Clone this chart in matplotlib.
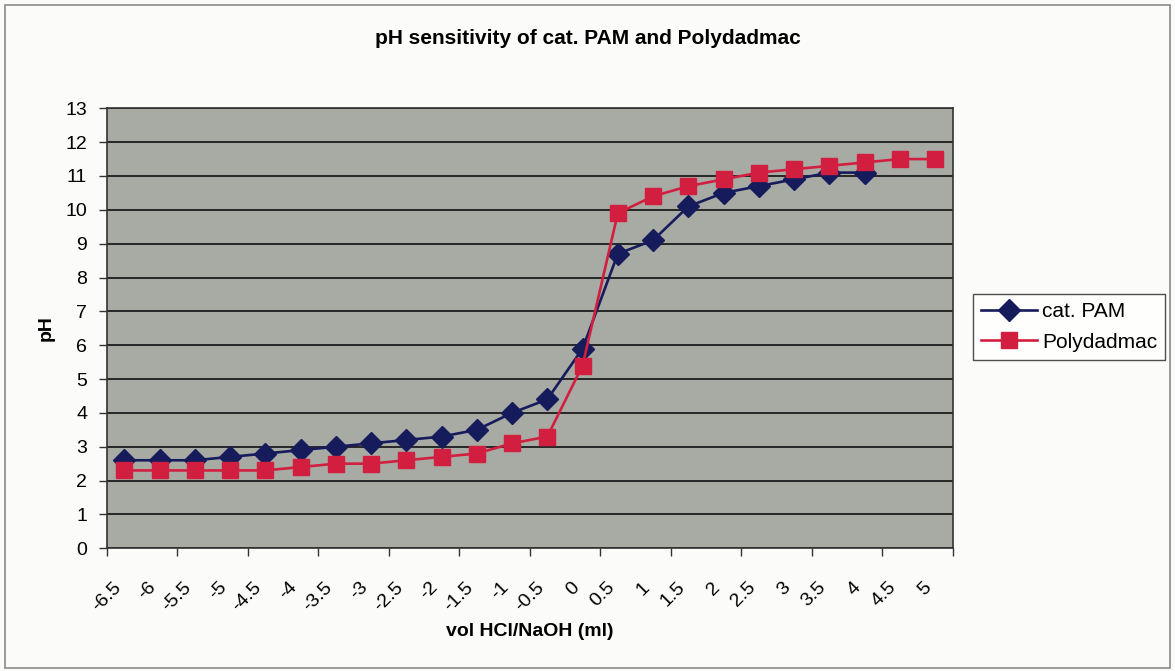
import numpy as np
import matplotlib
matplotlib.use("Agg")
import matplotlib.pyplot as plt
from matplotlib.patches import Rectangle

plt.rcParams["font.family"] = ["Liberation Sans", "DejaVu Sans"]

# titration volumes (category axis) and measured pH
vol_labels = ["-6.5", "-6", "-5.5", "-5", "-4.5", "-4", "-3.5", "-3", "-2.5", "-2",
              "-1.5", "-1", "-0.5", "0", "0.5", "1", "1.5", "2", "2.5", "3",
              "3.5", "4", "4.5", "5"]
ph_pam = [2.6, 2.6, 2.6, 2.7, 2.8, 2.9, 3.0, 3.1, 3.2, 3.3, 3.5, 4.0, 4.4, 5.9,
          8.7, 9.1, 10.1, 10.5, 10.7, 10.9, 11.1, 11.1]
ph_dadmac = [2.3, 2.3, 2.3, 2.3, 2.3, 2.4, 2.5, 2.5, 2.6, 2.7, 2.8, 3.1, 3.3, 5.4,
             9.9, 10.4, 10.7, 10.9, 11.1, 11.2, 11.3, 11.4, 11.5, 11.5]

fig = plt.figure(figsize=(11.75, 6.71), dpi=100)
fig.patch.set_facecolor("#fbfbfa")
# thin outer frame around the chart
fig.patches.append(Rectangle((5 / 1175, 3 / 671), 1165 / 1175, 663 / 671,
                             transform=fig.transFigure, fill=False,
                             edgecolor="#8a8a8a", linewidth=1.2))

ax = fig.add_axes([0.0908, 0.1829, 0.7200, 0.6557])
ax.set_facecolor("#a8aaa4")

x_pam = np.arange(len(ph_pam))
x_dad = np.arange(len(ph_dadmac))
ax.plot(x_pam, ph_pam, color="#161b5c", marker="D", markersize=11,
        linewidth=1.9, label="cat. PAM", zorder=3)
ax.plot(x_dad, ph_dadmac, color="#d21f3f", marker="s", markersize=11.5,
        linewidth=1.9, label="Polydadmac", zorder=4)

n = len(vol_labels)
ax.set_xlim(-0.5, n - 0.5)
ax.set_ylim(0, 13)
ax.set_yticks(range(0, 14))
ax.yaxis.grid(True, color="#1c1c1c", linewidth=1.3)
ax.set_axisbelow(True)

# labels on every category, tick marks every second boundary
ax.set_xticks(np.arange(-0.5, n, 2))
ax.set_xticklabels([])
ax.set_xticks(np.arange(n), minor=True)
ax.set_xticklabels(vol_labels, minor=True, rotation=45, ha="right", va="top")
ax.tick_params(axis="x", which="minor", length=0, pad=22, labelsize=14)
ax.tick_params(axis="x", which="major", length=6, width=1, color="#333333")
ax.tick_params(axis="y", length=6, width=1, color="#333333", labelsize=14, pad=8)

for side in ["left", "bottom", "right", "top"]:
    ax.spines[side].set_color("#333333")
    ax.spines[side].set_linewidth(1.2)

fig.text(0.5, 1 - 38 / 671, "pH sensitivity of cat. PAM and Polydadmac",
         fontsize=15, fontweight="bold", ha="center", va="center")
ax.set_xlabel("vol HCl/NaOH (ml)", fontsize=14, fontweight="bold", labelpad=6)
ax.set_ylabel("pH", fontsize=14, fontweight="bold", labelpad=8)

leg = fig.legend(loc="center left", bbox_to_anchor=(973 / 1175, 1 - 327 / 671),
                 fontsize=15, frameon=True, fancybox=False, handlelength=2.65,
                 handletextpad=0.25, borderpad=0.4, labelspacing=0.55,
                 borderaxespad=0)
leg.get_frame().set_edgecolor("#222222")
leg.get_frame().set_linewidth(1.0)
leg.get_frame().set_facecolor("white")

fig.savefig("out.png", dpi=100, facecolor=fig.get_facecolor())
